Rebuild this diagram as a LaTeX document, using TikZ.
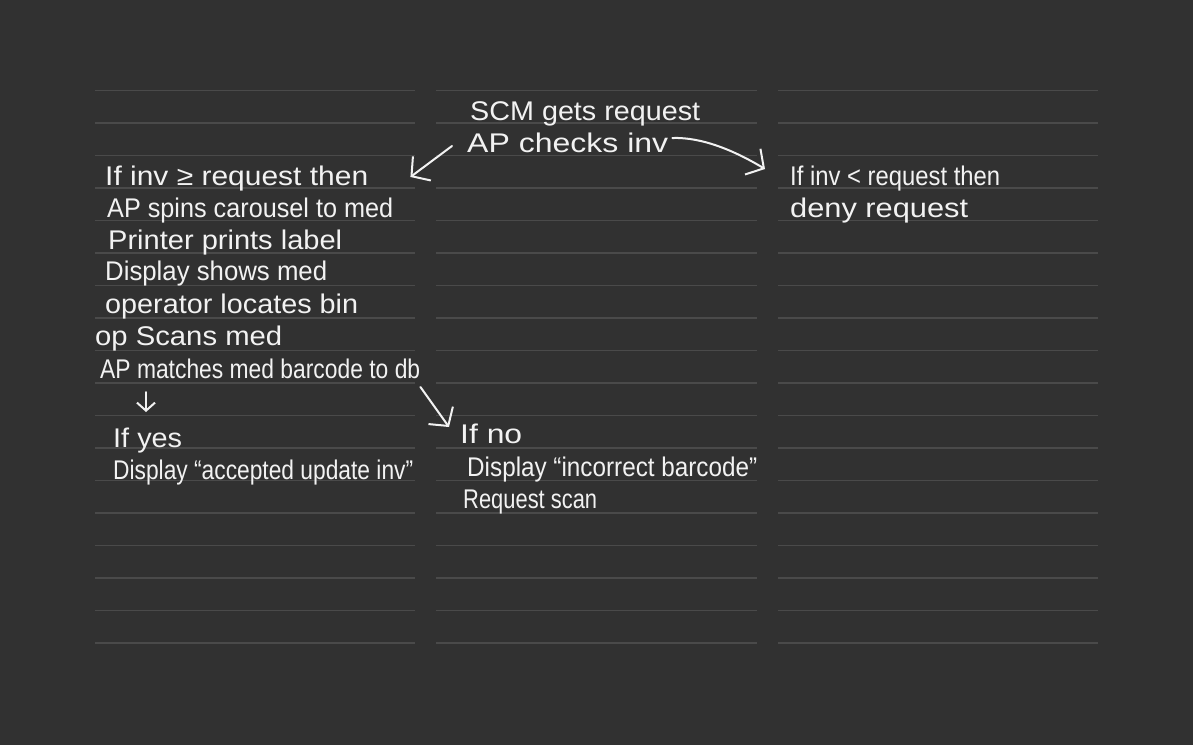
\documentclass[tikz,border=0pt]{standalone}
\usepackage{fontspec}
\setmainfont{Liberation Sans}
\usetikzlibrary{arrows.meta}
\definecolor{slate}{HTML}{313131}
\definecolor{rulegray}{HTML}{4A4A4A}
\definecolor{chalk}{HTML}{F2F2F2}
\newcommand{\ink}[2]{\resizebox{#1pt}{\height}{#2}}
\newcommand{\ruledcolumn}[2]{%
  \foreach \k in {0,...,17} {
    \draw[rulegray,line width=1.3pt] (#1,90.5+32.5*\k) -- (#2,90.5+32.5*\k);
  }
}

\begin{document}
\begin{tikzpicture}[x=1pt,y=-1pt,
  every node/.style={text=chalk,inner sep=0pt,anchor=base west,font=\fontsize{27}{32}\selectfont},
  inkarrow/.style={draw=chalk,line width=2pt,line cap=round,line join=round,
    -{Straight Barb[length=13pt,width=30pt]}},
  smallhead/.style={-{Straight Barb[length=8pt,width=18pt]}}]
  \fill[slate] (0,0) rectangle (1193,745);
  \ruledcolumn{95}{415}
  \ruledcolumn{436}{757}
  \ruledcolumn{778}{1098}
  \node (scm) at (470,120) {\ink{230}{SCM gets request}};
  \node (checks) at (467,152) {\ink{201}{AP checks inv}};
  \node (ifgeq) at (105,185) {\ink{263}{If inv ≥ request then}};
  \node (spins) at (107,217) {\ink{286}{AP spins carousel to med}};
  \node (printer) at (108,249) {\ink{234}{Printer prints label}};
  \node (shows) at (105,280) {\ink{222}{Display shows med}};
  \node (locates) at (105,313) {\ink{253}{operator locates bin}};
  \node (scans) at (95,345) {\ink{187}{op Scans med}};
  \node (matches) at (100,378) {\ink{320}{AP matches med barcode to db}};
  \node (ifyes) at (113,447) {\ink{69}{If yes}};
  \node (accepted) at (113,479) {\ink{300}{Display “accepted update inv”}};
  \node (ifno) at (460,443) {\ink{62}{If no}};
  \node (incorrect) at (467,476) {\ink{290}{Display “incorrect barcode”}};
  \node (rescan) at (463,508) {\ink{134}{Request scan}};
  \node (ifless) at (790,185) {\ink{210}{If inv < request then}};
  \node (deny) at (790,217) {\ink{178}{deny request}};
  \draw[inkarrow] ([shift={(-15,-6)}]checks.base west) -- ([shift={(42,-8)}]ifgeq.base east);
  \draw[inkarrow] ([shift={(4,-14)}]checks.base east) .. controls +(30,-1) and +(-30,-18) .. ([shift={(-25,-16)}]ifless.base west);
  \draw[inkarrow,smallhead] ([shift={(46,14)}]matches.base west) -- ([shift={(33,-35)}]ifyes.base west);
  \draw[inkarrow] ([shift={(0,9)}]matches.base east) -- ([shift={(-11,-16)}]ifno.base west);
\end{tikzpicture}
\end{document}
